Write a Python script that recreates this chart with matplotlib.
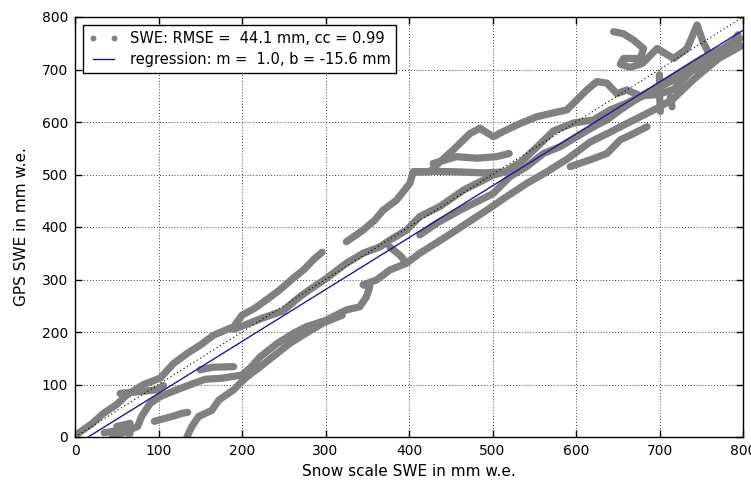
import matplotlib
matplotlib.use("Agg")
import matplotlib.pyplot as plt
import numpy as np

# ---- data (mm w.e.) ----
track_a = [(2, 5), (20, 25), (34, 45), (50, 62), (62, 80), (82, 100), (102, 112), (118, 140),
           (135, 160), (150, 175), (166, 194), (190, 210), (200, 232), (215, 245), (230, 262),
           (245, 280), (261, 302), (275, 320), (285, 337), (296, 352)]
track_a_branch = [(54, 83), (75, 86), (98, 90), (106, 98)]
track_b = [(190, 205), (222, 225), (249, 240), (269, 267), (285, 285), (301, 302), (325, 331),
           (345, 350), (365, 362), (377, 375), (397, 394), (413, 420), (437, 439), (465, 470),
           (485, 486), (501, 499), (515, 505), (535, 525), (555, 555), (573, 583), (597, 598),
           (621, 604), (641, 623), (661, 636), (690, 660), (720, 690), (750, 720), (790, 750)]
track_c = [(325, 372), (345, 394), (359, 413), (369, 432), (385, 451), (401, 483), (405, 505),
           (425, 505), (437, 524), (453, 547), (473, 578), (485, 588)]
track_c_flat = [(405, 505), (430, 506), (460, 505), (490, 503), (515, 505)]
track_c_loop = [(429, 521), (457, 534), (481, 531), (505, 534), (520, 540)]
track_u = [(485, 588), (501, 572), (513, 582), (533, 597), (553, 610), (569, 616), (589, 623),
           (601, 642), (613, 661), (625, 677), (637, 674), (649, 654), (661, 661), (677, 650),
           (697, 652), (717, 662), (737, 696), (760, 715), (776, 728), (796, 759)]
track_cluster = [(645, 772), (657, 768), (669, 756), (681, 740), (677, 721), (657, 721),
                 (653, 710), (665, 704), (680, 712), (697, 740), (717, 721), (733, 740),
                 (745, 785), (752, 753), (760, 728), (776, 740), (788, 753), (794, 766)]
track_drop = [(700, 690), (700, 655), (701, 620)]
track_drop2 = [(713, 648), (715, 629)]
track_p1 = [(45, 0), (60, 10), (75, 20), (80, 40), (90, 64), (102, 77), (122, 90), (142, 102),
            (156, 110), (176, 112), (200, 118), (210, 132), (222, 153), (242, 178), (261, 197),
            (277, 210), (300, 222), (325, 242), (341, 248), (349, 267), (353, 286), (345, 290),
            (361, 299), (377, 318), (397, 331), (413, 350), (425, 362), (445, 382), (469, 407),
            (493, 432), (517, 458), (541, 483), (565, 505), (590, 530), (617, 562), (640, 580),
            (657, 594), (697, 626), (717, 645), (740, 680), (770, 720), (798, 745)]
track_p4 = [(134, 0), (140, 20), (148, 39), (164, 51), (172, 70), (190, 90), (206, 115),
            (222, 134), (237, 153), (257, 178), (277, 198), (297, 217), (320, 232)]
track_blob = [(150, 128), (165, 133), (190, 134)]
track_short = [(95, 30), (116, 39), (128, 45), (135, 47)]
track_origin1 = [(35, 8), (50, 12), (66, 7)]
track_origin2 = [(50, 20), (66, 26)]
track_b1 = [(413, 385), (433, 407), (461, 432), (485, 451), (501, 464), (521, 496), (541, 515),
            (561, 540), (581, 553), (601, 572), (621, 591), (637, 604), (653, 623), (671, 642),
            (697, 664), (737, 696), (776, 728), (796, 759)]
track_lowloop = [(593, 515), (617, 528), (637, 540), (653, 566), (669, 578), (685, 591)]
track_connector = [(377, 362), (390, 345), (397, 331)]

tracks = [track_a, track_a_branch, track_b, track_c, track_c_flat, track_c_loop, track_u,
          track_cluster, track_drop, track_drop2, track_p1, track_p4, track_blob, track_short,
          track_origin1, track_origin2, track_b1, track_lowloop, track_connector]

reg_slope = 0.988
reg_intercept = -15.6
rmse = 44.1
cc = 0.99
axis_max = 800
ticks = [0, 100, 200, 300, 400, 500, 600, 700, 800]

# ---- figure ----
fig = plt.figure(figsize=(7.51, 4.80), dpi=100)
ax = fig.add_axes([75 / 751, 43 / 480, 668 / 751, 420 / 480])

gray = "#808080"
for tr in tracks:
    xs = [p[0] for p in tr]
    ys = [p[1] for p in tr]
    ax.plot(xs, ys, "-", color=gray, lw=5.2, solid_capstyle="round",
            solid_joinstyle="round", zorder=2)

# legend proxy for the dots
ax.plot([], [], linestyle="none", marker="o", ms=3.2, color=gray, mec=gray,
        label="SWE: RMSE =  %.1f mm, cc = %.2f" % (rmse, cc))

xr = np.array([0, axis_max])
ax.plot(xr, xr, color="black", linestyle=(0, (1, 2.5)), lw=0.8, zorder=3)
ax.plot(xr, reg_slope * xr + reg_intercept, color="#1c1c96", lw=1.0, zorder=4,
        label="regression: m =  %.1f, b = %.1f mm" % (reg_slope, reg_intercept))

ax.set_xlim(0, axis_max)
ax.set_ylim(0, axis_max)
ax.set_xticks(ticks)
ax.set_yticks(ticks)
ax.tick_params(direction="in", top=True, right=True, length=5, width=1,
               labelsize=10, pad=5)
ax.grid(True, color="black", linestyle=(0, (1, 2.5)), lw=0.6)
for s in ax.spines.values():
    s.set_linewidth(1.0)

ax.set_xlabel("Snow scale SWE in mm w.e.", fontsize=11, labelpad=4)
ax.set_ylabel("GPS SWE in mm w.e.", fontsize=11, labelpad=9)

leg = ax.legend(loc="upper left", numpoints=2, fancybox=False, framealpha=1,
                edgecolor="black", fontsize=10.5, borderaxespad=0.55,
                handlelength=2.0, handletextpad=0.8, borderpad=0.4, labelspacing=0.4)
leg.get_frame().set_linewidth(1.0)

fig.savefig("out.png", dpi=100)
